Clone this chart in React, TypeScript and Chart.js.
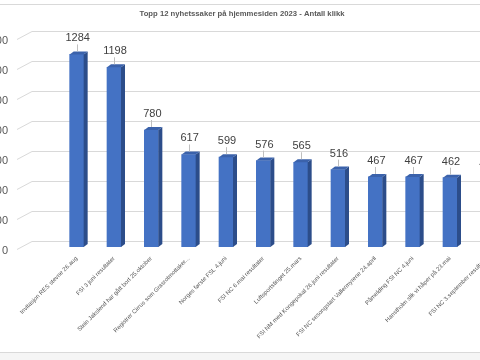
import React, { useEffect, useRef } from "react";
import { Chart, registerables } from "chart.js";

Chart.register(...registerables);

const TITLE = "Topp 12 nyhetssaker på hjemmesiden 2023 - Antall klikk";

const categories = [
  "Invitasjon RES stevne 26.aug",
  "FSI 3 juni resultater",
  "Stein Jakslend har gått bort 25.oktober",
  "Registrer Cirrus som Grasrotmottaker...",
  "Norges første FSL 4.juni",
  "FSI NC 6.mai resultater",
  "Luftsportstinget 25.mars",
  "FSI NM med Kongepokal 26.juni resultater",
  "FSI NC sesongstart Vallermyrene 24.april",
  "Påmelding FSI NC 4.juni",
  "Hanstholm slik vi håper på 23.mai",
  "FSI NC 3.september resultater",
];

const clicks = [1284, 1198, 780, 617, 599, 576, 565, 516, 467, 467, 462, 450];

const yMin = 0;
const yMax = 1400;
const yStep = 200;

const FRONT = "#4472C4";
const SIDE = "#2C4D8A";
const TOP = "#3B62AB";
const DX = 4;
const DY = 3;

const CANVAS_W = 546;
const CANVAS_H = 360;
const SHIFT_X = -31;
const FONT = "'Liberation Sans', Arial, sans-serif";

const threeD = {
  id: "threeD",
  beforeDraw(chart: any) {
    const { ctx, width, height } = chart;
    ctx.save();
    ctx.fillStyle = "#FFFFFF";
    ctx.fillRect(0, 0, width, height);
    ctx.strokeStyle = "#D9D9D9";
    ctx.lineWidth = 1;
    ctx.beginPath();
    ctx.moveTo(0, 4.5);
    ctx.lineTo(width, 4.5);
    ctx.stroke();
    ctx.fillStyle = "#F5F5F5";
    ctx.fillRect(0, 353, width, height - 353);
    ctx.beginPath();
    ctx.moveTo(0, 352.5);
    ctx.lineTo(width, 352.5);
    ctx.stroke();
    ctx.restore();
  },
  beforeDatasetsDraw(chart: any) {
    const { ctx, chartArea } = chart;
    const ys = chart.scales.y;
    ctx.save();
    ctx.strokeStyle = "#D9D9D9";
    ctx.lineWidth = 1;
    ctx.fillStyle = "#595959";
    ctx.font = `11px ${FONT}`;
    ctx.textAlign = "right";
    ctx.textBaseline = "middle";
    ys.ticks.forEach((t: any) => {
      const py = Math.round(ys.getPixelForValue(t.value)) + 0.5;
      ctx.beginPath();
      ctx.moveTo(chartArea.left - 41, py + 2);
      ctx.lineTo(chartArea.left - 26, py - 6);
      ctx.lineTo(chart.width, py - 6);
      ctx.stroke();
      ctx.fillText(String(t.value), chartArea.left - 50, py + 3);
    });
    ctx.restore();
  },
  afterDatasetsDraw(chart: any) {
    const { ctx } = chart;
    const meta = chart.getDatasetMeta(0);
    const data = chart.data.datasets[0].data;
    ctx.save();
    meta.data.forEach((bar: any, i: number) => {
      const { x, y, base, width } = bar.getProps(["x", "y", "base", "width"], true);
      const l = x - width / 2;
      const r = x + width / 2;
      ctx.fillStyle = SIDE;
      ctx.beginPath();
      ctx.moveTo(r, y);
      ctx.lineTo(r + DX, y - DY);
      ctx.lineTo(r + DX, base - DY);
      ctx.lineTo(r, base);
      ctx.closePath();
      ctx.fill();
      ctx.fillStyle = TOP;
      ctx.beginPath();
      ctx.moveTo(l, y);
      ctx.lineTo(l + DX, y - DY);
      ctx.lineTo(r + DX, y - DY);
      ctx.lineTo(r, y);
      ctx.closePath();
      ctx.fill();
      ctx.strokeStyle = "#BFBFBF";
      ctx.lineWidth = 1;
      ctx.beginPath();
      ctx.moveTo(Math.round(x) + 0.5, y - 10);
      ctx.lineTo(Math.round(x) + 0.5, y - 3);
      ctx.stroke();
      ctx.fillStyle = "#404040";
      ctx.font = `11px ${FONT}`;
      ctx.textAlign = "center";
      ctx.textBaseline = "middle";
      ctx.fillText(String(data[i]), x + 1, y - 16);
    });
    ctx.restore();
  },
};

export default function App() {
  const ref = useRef<HTMLCanvasElement | null>(null);

  useEffect(() => {
    if (!ref.current) return;
    const chart = new Chart(ref.current, {
      type: "bar",
      data: {
        labels: categories,
        datasets: [
          {
            data: clicks,
            backgroundColor: FRONT,
            borderWidth: 0,
            barThickness: 14,
          },
        ],
      },
      options: {
        animation: false,
        responsive: false,
        devicePixelRatio: 1,
        layout: { padding: { left: 9, right: 9, top: 0, bottom: 0 } },
        plugins: {
          legend: { display: false },
          tooltip: { enabled: false },
          title: {
            display: true,
            text: TITLE,
            color: "#595959",
            font: { family: FONT, size: 7.7, weight: "bold", lineHeight: 1.56 },
            padding: { top: 8, bottom: 17 },
          },
        },
        scales: {
          x: {
            grid: { display: false },
            border: { display: false },
            ticks: {
              autoSkip: false,
              minRotation: 45,
              maxRotation: 45,
              padding: 0,
              color: "#595959",
              font: { family: FONT, size: 6 },
            },
            afterFit: (s: any) => {
              s.height = 113;
            },
          },
          y: {
            min: yMin,
            max: yMax,
            grid: { display: false },
            border: { display: false },
            ticks: {
              display: false,
              stepSize: yStep,
              padding: 0,
            },
            afterFit: (s: any) => {
              s.width = 80;
            },
          },
        },
      },
      plugins: [threeD],
    });
    return () => chart.destroy();
  }, []);

  return (
    <div style={{ position: "fixed", left: 0, top: 0, width: 480, height: 360, overflow: "hidden", background: "#fff" }}>
      <div style={{ position: "absolute", left: SHIFT_X, top: 0, width: CANVAS_W, height: CANVAS_H }}>
        <canvas ref={ref} width={CANVAS_W} height={CANVAS_H} style={{ width: CANVAS_W, height: CANVAS_H, display: "block" }} />
      </div>
    </div>
  );
}
